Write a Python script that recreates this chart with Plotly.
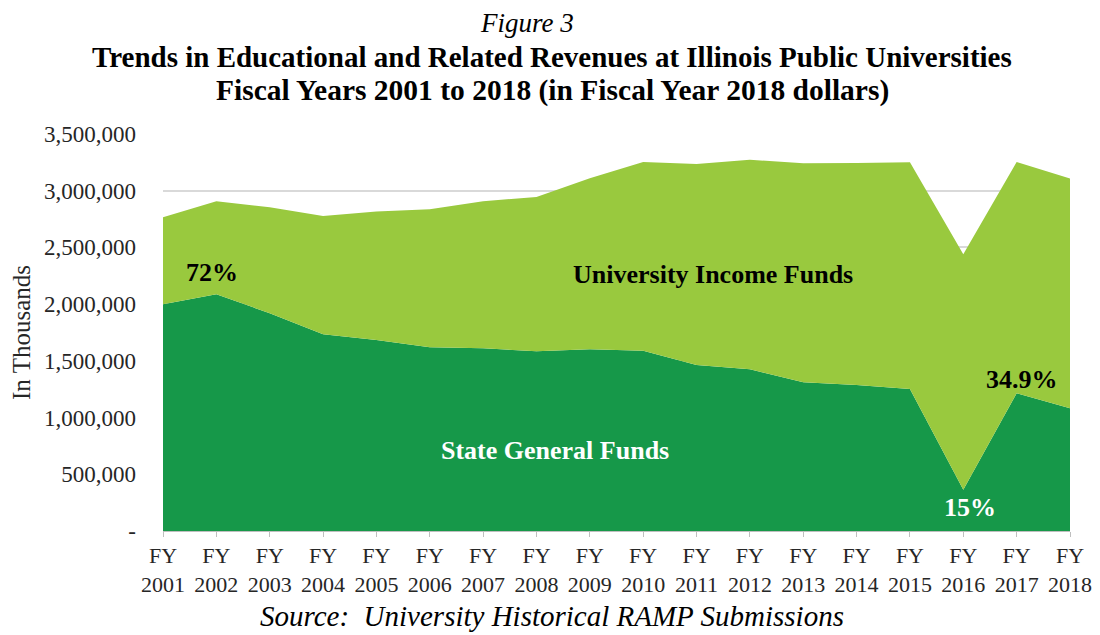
import plotly.graph_objects as go

years = ["2001", "2002", "2003", "2004", "2005", "2006", "2007", "2008", "2009",
         "2010", "2011", "2012", "2013", "2014", "2015", "2016", "2017", "2018"]
state_general = [2000000, 2087000, 1920000, 1734000, 1684000, 1620000, 1611000, 1585000, 1602000,
                 1590000, 1464000, 1426000, 1311000, 1287000, 1252000, 364000, 1214000, 1083000]
total_revenue = [2766000, 2907000, 2854000, 2778000, 2816000, 2837000, 2907000, 2945000, 3110000,
                 3254000, 3236000, 3272000, 3243000, 3245000, 3251000, 2440000, 3254000, 3107000]
university_income = [t - s for t, s in zip(total_revenue, state_general)]
tick_labels = ["FY<br>" + y for y in years]
y_ticks = [0, 500000, 1000000, 1500000, 2000000, 2500000, 3000000, 3500000]
y_tick_text = ["-"] + [f"{v:,}" for v in y_ticks[1:]]

x = list(range(len(years)))
FONT = "Liberation Serif, Times New Roman, serif"
DARK = "#169849"
LIGHT = "#99C93E"

# page body has an 8px offset; figure is sized to fit the window
OFF = 8
W, H = 1100 - OFF, 635 - OFF
L, R, T, B = 163 - OFF, 30, 134 - OFF, 635 - 531

fig = go.Figure()
fig.add_trace(go.Scatter(x=x, y=state_general, stackgroup="one", mode="none",
                         fillcolor=DARK, name="State General Funds"))
fig.add_trace(go.Scatter(x=x, y=university_income, stackgroup="one", mode="none",
                         fillcolor=LIGHT, name="University Income Funds"))

fig.update_layout(
    width=W, height=H,
    margin=dict(l=L, r=R, t=T, b=B),
    paper_bgcolor="white", plot_bgcolor="white",
    showlegend=False, hovermode=False,
    font=dict(family=FONT, size=22, color="#262626"),
    xaxis=dict(range=[0, 17], tickmode="array", tickvals=x, ticktext=tick_labels,
               showgrid=False, zeroline=False, showline=True, linecolor="#bfbfbf",
               ticks="outside", ticklen=5, tickcolor="#bfbfbf", automargin=False,
               tickfont=dict(family=FONT, size=22, color="#262626")),
    yaxis=dict(range=[0, 3500000], tickmode="array", tickvals=y_ticks, ticktext=y_tick_text,
               showgrid=True, gridcolor="#d9d9d9", gridwidth=1.5, zeroline=False,
               ticklabelstandoff=26, automargin=False,
               tickfont=dict(family=FONT, size=23, color="#262626"),
               title=dict(text="In Thousands", font=dict(family=FONT, size=25, color="#262626"),
                          standoff=8)),
)

plot_h = H - T - B
plot_w = W - L - R


def paper_xy(px, py):
    return ((px - OFF - L) / plot_w, (H - B - (py - OFF)) / plot_h)


titles = [
    (527, 23, "<i>Figure 3</i>", 27),
    (552, 57, "<b>Trends in Educational and Related Revenues at Illinois Public Universities</b>", 29),
    (552, 90, "<b>Fiscal Years 2001 to 2018 (in Fiscal Year 2018 dollars)</b>", 29.5),
    (552, 616, "<i>Source:  University Historical RAMP Submissions</i>", 29),
]
for px, py, txt, sz in titles:
    ax, ay = paper_xy(px, py)
    fig.add_annotation(x=ax, y=ay, xref="paper", yref="paper", text=txt, showarrow=False,
                       xanchor="center", yanchor="middle",
                       font=dict(family=FONT, size=sz, color="black"))

data_labels = [
    (10.31, 2257000, "<b>University Income Funds</b>", "black", 26),
    (7.35, 714000, "<b>State General Funds</b>", "white", 26),
    (0.92, 2275000, "<b>72%</b>", "black", 26),
    (16.1, 1340000, "<b>34.9%</b>", "black", 26),
    (15.13, 203000, "<b>15%</b>", "white", 26),
]
for lx, ly, txt, col, sz in data_labels:
    fig.add_annotation(x=lx, y=ly, text=txt, showarrow=False, xanchor="center", yanchor="middle",
                       font=dict(family=FONT, size=sz, color=col))

fig.write_html("out.html")
